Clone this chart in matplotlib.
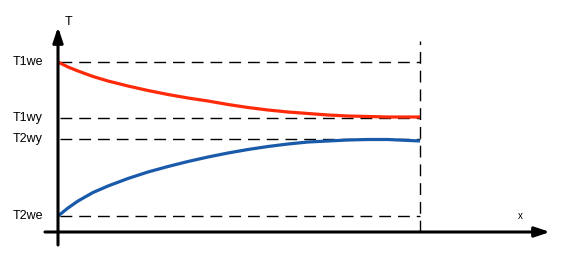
import matplotlib.pyplot as plt

# distance along the exchanger and the two temperature profiles
x = [0, 10, 20, 35, 50, 70, 90, 110, 130, 150, 170, 190, 210, 230, 250, 270, 290, 310, 330, 362]
t1 = [170, 165, 161, 155.5, 151, 146, 141.5, 137.5, 134, 131, 127.5, 124.5, 122, 120, 118.5, 117, 116, 115.5, 115, 115]
t2 = [16, 24, 31, 39.5, 46, 53.5, 60, 65.5, 70.5, 75, 79, 82.5, 85.5, 88, 90, 91, 92, 92.5, 92.5, 91]

levels = [170, 114, 93, 16]
level_labels = ['T1we', 'T1wy', 'T2wy', 'T2we']
x_end = 362

fig = plt.figure(figsize=(5.79, 2.68), dpi=100)
ax = fig.add_axes([0, 0, 1, 1])
ax.set_xlim(-58, 521)
ax.set_ylim(-36, 232)
ax.axis('off')

dash = (0, (8.5, 5))
for lv, lab in zip(levels, level_labels):
    ax.plot([2, x_end], [lv, lv], color='black', lw=1, linestyle=dash)
    ax.text(-15, lv, lab, ha='right', va='center', fontsize=9, family='Liberation Sans')

ax.plot([x_end, x_end], [0, 191], color='black', lw=1, linestyle=dash)

ax.plot(x, t1, color='#ff2a0a', lw=2.3, solid_capstyle='butt', solid_joinstyle='round')
ax.plot(x, t2, color='#1a5aaa', lw=2.3, solid_capstyle='butt', solid_joinstyle='round')

# axes with arrows
arrow = dict(arrowstyle='-|>,head_length=0.9,head_width=0.3', color='black', lw=2.2,
             shrinkA=0, shrinkB=0)
ax.annotate('', xy=(0, 205), xytext=(0, -13), arrowprops=arrow)
ax.annotate('', xy=(492, 0), xytext=(-13, 0), arrowprops=arrow)

ax.text(7, 210, 'T', ha='left', va='center', fontsize=9, family='Liberation Sans')
ax.text(462, 16, 'x', ha='center', va='center', fontsize=7, family='Liberation Sans')

fig.savefig('out.png', dpi=100)
